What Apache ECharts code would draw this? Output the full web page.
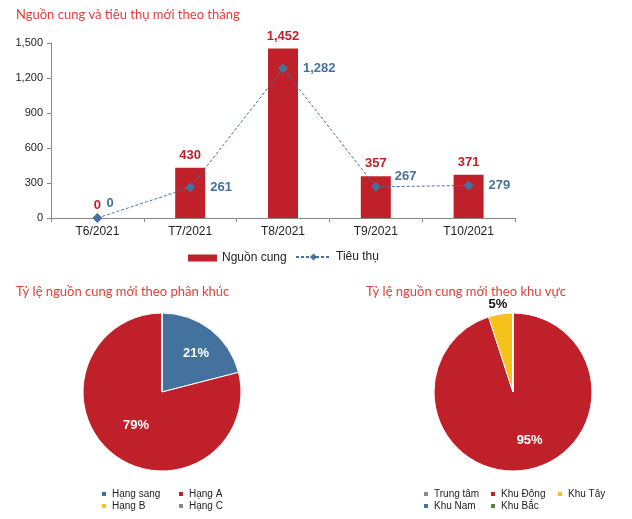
<!DOCTYPE html>
<html><head><meta charset="utf-8">
<script src="https://cdn.jsdelivr.net/npm/echarts@6/dist/echarts.min.js"></script>
<style>html,body{margin:0;padding:0;background:#fff}#c{width:632px;height:519px}</style>
</head><body><div id="c"></div><script>
const months = ['T6/2021','T7/2021','T8/2021','T9/2021','T10/2021'];
const supply = [0, 430, 1452, 357, 371];
const absorption = [0, 261, 1282, 267, 279];
const yMax = 1500, yStep = 300;
const segmentNames = ['Hạng sang','Hạng A','Hạng B','Hạng C'];
const segmentShares = [21, 79, 0, 0];
const regionNames = ['Trung tâm','Khu Đông','Khu Tây','Khu Nam','Khu Bắc'];
const regionShares = [0, 95, 5, 0, 0];

const RED = '#c0202a', BLUE = '#44729f', YELLOW = '#f4c21b', GRAY = '#8a8a8a', GREEN = '#4e8a3a';
const TITLE = '#e2403c';
const fmt = v => Number(v).toLocaleString('en-US');

const segColors = [BLUE, RED, YELLOW, GRAY];
const regColors = [GRAY, RED, YELLOW, BLUE, GREEN];

const chart = echarts.init(document.getElementById('c'), null, {renderer:'canvas'});
const titleStyle = {color: TITLE, fontSize: 13, fontWeight: 'normal', fontFamily: 'Lato'};
const legText = {color:'#222', fontSize:12, fontFamily:'Liberation Sans, Arial'};
const pieLegText = {color:'#222', fontSize:10, fontFamily:'Liberation Sans, Arial'};

// grid-of-legend layout helper: one legend per item, cols per row
function legendGrid(names, x0, y0, dx, dy, cols) {
  return names.map((n, i) => ({
    data:[n], left: x0 + (i % cols) * dx, top: y0 + Math.floor(i / cols) * dy,
    itemWidth:6, itemHeight:6, icon:'rect', selectedMode:false, textStyle: pieLegText
  }));
}

// label placement tweaks (label layout only)
const lineLabelPos = {0:[14,-16], 3:[24,-12]};
const pieLabelNudge = {'Hạng sang':[8,-5], 'Khu Đông':[10,6], 'Khu Tây':[12,-8]};

chart.setOption({
  animation: false,
  textStyle: {fontFamily: 'Liberation Sans, Arial'},
  title: [
    {text:'Nguồn cung và tiêu thụ mới theo tháng', left: 11, top: 3, textStyle: titleStyle},
    {text:'Tỷ lệ nguồn cung mới theo phân khúc', left: 11, top: 280, textStyle: titleStyle},
    {text:'Tỷ lệ nguồn cung mới theo khu vực', left: 361, top: 280, textStyle: titleStyle}
  ],
  grid: {left: 51, top: 43, width: 464, height: 175},
  xAxis: {
    type:'category', data: months,
    axisLine:{lineStyle:{color:'#888'}},
    axisTick:{show:true, length:4, alignWithLabel:false, lineStyle:{color:'#888'}},
    axisLabel:{color:'#222', fontSize:12, margin:8}
  },
  yAxis: {
    type:'value', min:0, max:yMax, interval:yStep,
    axisLine:{show:true, lineStyle:{color:'#888'}},
    axisTick:{show:true, length:4, lineStyle:{color:'#888'}},
    splitLine:{show:false},
    axisLabel:{color:'#222', fontSize:11, margin:8, formatter: fmt}
  },
  legend: [
    {data:['Nguồn cung'], left:183, top:247, itemWidth:29, itemHeight:7, selectedMode:false, textStyle:legText, icon:'rect'},
    {data:['Tiêu thụ'], left:290, top:246, itemWidth:35, itemHeight:9, selectedMode:false, textStyle:legText}
  ].concat(
    legendGrid(segmentNames, 95, 484, 77, 12, 2),
    legendGrid(regionNames, 417, 484, 67, 12, 3)
  ),
  series: [
    {
      name:'Nguồn cung', type:'bar', data: supply, barWidth: 30,
      itemStyle:{color: RED},
      label:{show:true, position:'top', distance:6, color: RED, fontWeight:'bold', fontSize:13, formatter: p => fmt(p.value)}
    },
    {
      name:'Tiêu thụ', type:'line', z: 5,
      data: absorption.map((v,i) => lineLabelPos[i] ? {value:v, label:{position:lineLabelPos[i]}} : v),
      symbol:'diamond', symbolSize: 10,
      lineStyle:{color: BLUE, width:1, type:[3,2]},
      itemStyle:{color: BLUE},
      label:{show:true, position:'right', distance:15, color: BLUE, fontWeight:'bold', fontSize:13, formatter: p => fmt(p.value)}
    },
    {
      type:'pie', center:[162, 392], radius:[0, 79], startAngle: 90, clockwise:true,
      data: segmentNames.map((n,i) => ({name:n, value:segmentShares[i], itemStyle:{color:segColors[i]}})),
      itemStyle:{borderColor:'#fff', borderWidth:1},
      label:{show:true, position:'inside', color:'#fff', fontWeight:'bold', fontSize:13,
        formatter: p => p.value > 0 ? p.value + '%' : ''},
      labelLayout: p => { const d = pieLabelNudge[segmentNames[p.dataIndex]]; return d ? {dx:d[0], dy:d[1]} : {}; },
      labelLine:{show:false}, emphasis:{disabled:true}
    },
    {
      type:'pie', center:[513, 392], radius:[0, 79], startAngle: 90, clockwise:true,
      data: regionNames.map((n,i) => {
        const d = {name:n, value:regionShares[i], itemStyle:{color:regColors[i]}};
        if (regionShares[i] > 0 && regionShares[i] < 10) d.label = {position:'outside', color:'#111'};
        return d;
      }),
      itemStyle:{borderColor:'#fff', borderWidth:1},
      label:{show:true, position:'inside', color:'#fff', fontWeight:'bold', fontSize:13,
        formatter: p => p.value > 0 ? p.value + '%' : ''},
      labelLayout: p => { const d = pieLabelNudge[regionNames[p.dataIndex]]; return d ? {dx:d[0], dy:d[1]} : {}; },
      labelLine:{show:false, length:2, length2:0}, emphasis:{disabled:true}
    }
  ]
});
</script></body></html>
